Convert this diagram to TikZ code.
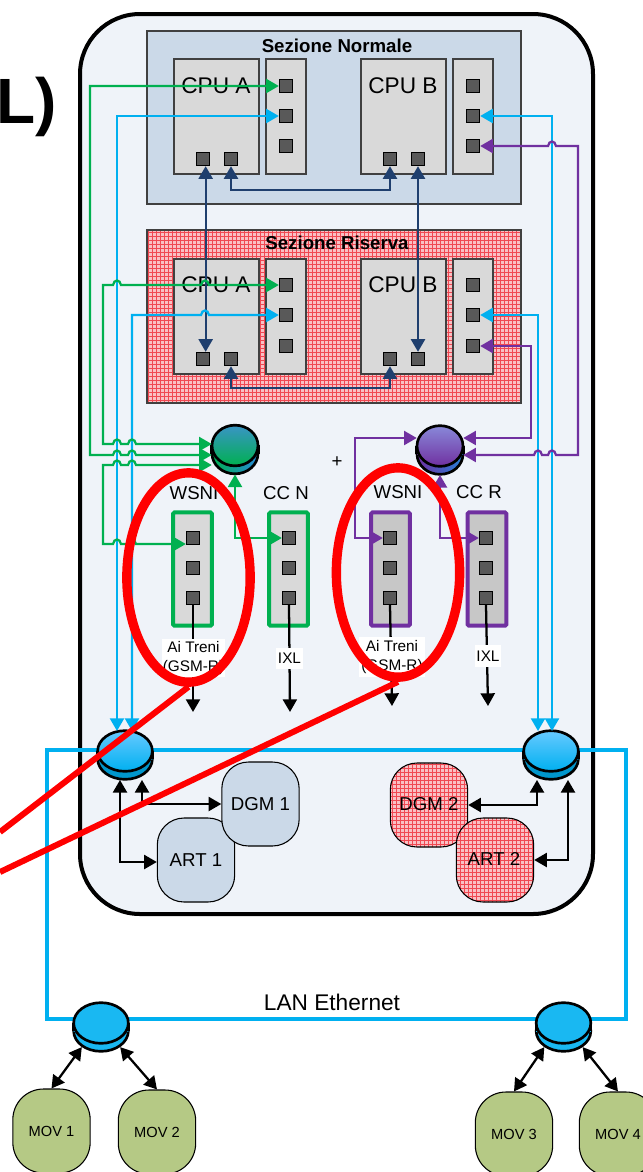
\documentclass[tikz,border=0pt]{standalone}
\usepackage{fontspec}
\setmainfont{Liberation Sans}
\usepackage{tikz}
\usetikzlibrary{arrows.meta,patterns,shapes.geometric}
\definecolor{sfondo}{HTML}{EFF3F9}
\definecolor{celeste}{HTML}{CBD9E8}
\definecolor{rosa}{HTML}{F9C0C4}
\definecolor{reticolo}{HTML}{F04852}
\definecolor{verde}{HTML}{00B050}
\definecolor{azzurro}{HTML}{00B0F0}
\definecolor{viola}{HTML}{7030A0}
\definecolor{blu}{HTML}{1F3F6E}
\definecolor{oliva}{HTML}{B5C985}
\tikzset{
	port/.style={rectangle,draw=black,line width=1pt,fill=black!65,minimum size=9.75pt,inner sep=0pt,name=#1},
	box/.style 2 args={rectangle,draw=black!75,line width=.8pt,fill=black!15,minimum width=#1,minimum height=#2,inner sep=0pt},
	wbox/.style={rectangle,rounded corners=1pt,line width=3pt,fill=black!15,minimum width=29pt,minimum height=85pt,inner sep=0pt,draw=#1},
	sec/.style={rectangle,draw=black!75,line width=.8pt,minimum width=280.5pt,minimum height=129.75pt,inner sep=0pt},
	redgrid/.style={preaction={fill=rosa},pattern=grid,pattern color=reticolo},
	tonda/.style={rectangle,rounded corners=20pt,draw=black,line width=.8pt,minimum width=58pt,minimum height=63pt,inner sep=0pt},
	mov/.style={rectangle,rounded corners=23pt,draw=black,line width=.8pt,fill=oliva,minimum width=58pt,minimum height=63pt,inner sep=0pt,font=\fontsize{11}{13}\selectfont},
	titolo/.style={font=\bfseries\fontsize{14}{16}\selectfont,inner sep=0pt},
	cpu/.style={font=\fontsize{17}{19}\selectfont,inner sep=0pt},
	nome/.style={font=\fontsize{14}{16}\selectfont,inner sep=0pt},
	etichetta/.style={fill=white,inner sep=1pt,align=center,font=\fontsize{11.5}{14}\selectfont},
	gline/.style={draw=verde,line width=1.7pt},
	bline/.style={draw=azzurro,line width=1.7pt},
	vline/.style={draw=viola,line width=1.7pt},
	nline/.style={draw=blu,line width=1.7pt},
	kline/.style={draw=black,line width=1.7pt},
	anello/.style={ellipse,draw=red,line width=7pt,minimum width=92.5pt,minimum height=157pt,inner sep=0pt},
	sbarra/.style={draw=red,line width=4.5pt},
	topverde/.style={top color=blue!35!cyan!55!gray,bottom color=verde},
	sideverde/.style={left color=verde,right color=blue!45!cyan!70!gray},
	topviola/.style={top color=blue!45!white!70!gray,bottom color=viola},
	sideviola/.style={left color=viola,right color=blue!50!cyan!70!gray},
	topblu/.style={top color=blue!35!cyan!60!white,bottom color=azzurro},
	sideblu/.style={left color=azzurro!85!black,right color=azzurro!85!black},
	topflat/.style={fill=azzurro!90!white},
	sideflat/.style={left color=azzurro!90!white,right color=azzurro!90!white}
}
\newcommand{\hub}[6]{
	\node [minimum width=#4,minimum height=37pt,inner sep=0pt] (#1) at (#2,#3) {};
	\node [ellipse,draw=black,line width=2pt,minimum width=#4,minimum height=30.5pt,inner sep=0pt,#6] (#1l) at (#2,#3+4) {};
	\node [minimum width=#4,minimum height=6pt,inner sep=0pt,#6] (#1m) at (#2,#3) {};
	\draw [line width=2pt] (#1m.north west) -- (#1m.south west);
	\draw [line width=2pt] (#1m.north east) -- (#1m.south east);
	\node [ellipse,draw=black,line width=2pt,minimum width=#4,minimum height=30.5pt,inner sep=0pt,#5] (#1t) at (#2,#3-4) {};
}
\newcommand{\hopr}[2]{-- (#1-4,#2) .. controls (#1-3,#2-6) and (#1+3,#2-6) .. (#1+4,#2)}
\newcommand{\hopl}[2]{-- (#1+4,#2) .. controls (#1+3,#2-6) and (#1-3,#2-6) .. (#1-4,#2)}

\begin{document}
\begin{tikzpicture}[x=0.75pt,y=-0.75pt,>={Triangle[length=9.5pt,width=10.5pt]}]
	\useasboundingbox (0,0) rectangle (643,1172);
	\clip (0,0) rectangle (643,1172);

	\node [anchor=base east,inner sep=0pt,font=\bfseries\fontsize{48}{50}\selectfont] (tl) at (57,123) {L)};

	\node [rectangle,rounded corners=45pt,draw=black,line width=3pt,fill=sfondo,minimum width=384.75pt,minimum height=675pt,inner sep=0pt] (esterno) at (336.5,464) {};

	\node [sec,fill=celeste] (sn) at (334,117.5) {};
	\node [sec,redgrid] (sr) at (334,316.5) {};
	\node [titolo] (tn) at (337,46) {Sezione Normale};
	\node [titolo] (tr) at (337,243) {Sezione Riserva};

	\node [box={63.75pt}{86.25pt}] (ncpua) at (216.5,116.5) {};
	\node [box={30pt}{86.25pt}] (nsa) at (286,116.5) {};
	\node [box={63.75pt}{86.25pt}] (ncpub) at (403.5,116.5) {};
	\node [box={30pt}{86.25pt}] (nsb) at (473,116.5) {};
	\node [box={63.75pt}{86.25pt}] (rcpua) at (216.5,316.5) {};
	\node [box={30pt}{86.25pt}] (rsa) at (286,316.5) {};
	\node [box={63.75pt}{86.25pt}] (rcpub) at (403.5,316.5) {};
	\node [box={30pt}{86.25pt}] (rsb) at (473,316.5) {};

	\node [cpu] (lna) at (216,86) {CPU A};
	\node [cpu] (lnb) at (403,86) {CPU B};
	\node [cpu] (lra) at (216,285) {CPU A};
	\node [cpu] (lrb) at (403,285) {CPU B};

	\node [port=na1] at (286,86) {};
	\node [port=na2] at (286,116) {};
	\node [port=na3] at (286,146) {};
	\node [port=nb1] at (473,86) {};
	\node [port=nb2] at (473,116) {};
	\node [port=nb3] at (473,146) {};
	\node [port=nc1] at (203,159) {};
	\node [port=nc2] at (231,159) {};
	\node [port=nc3] at (390,159) {};
	\node [port=nc4] at (418,159) {};
	\node [port=ra1] at (286,285) {};
	\node [port=ra2] at (286,315) {};
	\node [port=ra3] at (286,346) {};
	\node [port=rb1] at (473,285) {};
	\node [port=rb2] at (473,315) {};
	\node [port=rb3] at (473,346) {};
	\node [port=rc1] at (203,359) {};
	\node [port=rc2] at (231,359) {};
	\node [port=rc3] at (390,359) {};
	\node [port=rc4] at (418,359) {};

	\node [wbox=verde] (wn) at (192.5,569) {};
	\node [wbox=verde] (cn) at (288.5,569) {};
	\node [wbox=viola,fill=black!22] (wr) at (390.5,569) {};
	\node [wbox=viola,fill=black!22] (cr) at (487,569) {};
	\node [nome] (lwn) at (194,493) {WSNI};
	\node [nome] (lcn) at (286,493) {CC N};
	\node [nome] (lwr) at (398,492) {WSNI};
	\node [nome] (lcr) at (479,492) {CC R};
	\node [nome] (piu) at (337,462) {+};

	\node [port=wn1] at (193,538) {};
	\node [port=wn2] at (193,568) {};
	\node [port=wn3] at (193,598) {};
	\node [port=cn1] at (289,538) {};
	\node [port=cn2] at (289,568) {};
	\node [port=cn3] at (289,598) {};
	\node [port=wr1] at (390,538) {};
	\node [port=wr2] at (390,568) {};
	\node [port=wr3] at (390,598) {};
	\node [port=cr1] at (486,538) {};
	\node [port=cr2] at (486,568) {};
	\node [port=cr3] at (486,598) {};

	\node [tonda,fill=celeste,nome] (art1) at (196,860) {ART 1};
	\node [tonda,fill=celeste,nome] (dgm1) at (260.5,804) {DGM 1};
	\node [tonda,redgrid] (dgm2) at (429,805) {};
	\node [tonda,redgrid] (art2) at (495,860) {};
	\node [nome] (ldgm2) at (429,804) {DGM 2};
	\node [nome] (lart2) at (494,859) {ART 2};

	\node [mov] (mov1) at (51.5,1131) {MOV 1};
	\node [mov] (mov2) at (157,1132) {MOV 2};
	\node [mov] (mov3) at (514,1134) {MOV 3};
	\node [mov] (mov4) at (618,1134) {MOV 4};

	\node [rectangle,draw=azzurro,line width=3pt,minimum width=434.25pt,minimum height=201.75pt,inner sep=0pt] (lan) at (336.5,884.5) {};
	\node [nome,font=\fontsize{17}{19}\selectfont] (llan) at (332,1002) {LAN Ethernet};

	\hub{hv}{235}{449.5}{34.5pt}{topverde}{sideverde}
	\hub{hp}{440}{450}{34.5pt}{topviola}{sideviola}
	\hub{hl}{125}{755}{41pt}{topblu}{sideblu}
	\hub{hr}{551}{755}{41pt}{topblu}{sideblu}
	\hub{hb1}{101}{1027}{41pt}{topflat}{sideflat}
	\hub{hb2}{563.5}{1027}{41pt}{topflat}{sideflat}

	\coordinate (g1) at (90,455);
	\coordinate (g2) at (103,444);
	\coordinate (g3) at (103,465);
	\coordinate (g4) at (103,544);
	\coordinate (b1) at (117,731);
	\coordinate (b2) at (132,731);
	\coordinate (b3) at (538,731);
	\coordinate (b4) at (552,731);
	\coordinate (v1) at (578,455);
	\coordinate (v2) at (531,438);
	\coordinate (v3) at (355,438);
	\coordinate (n1) at (300,190);
	\coordinate (r1) at (300,388);
	\coordinate (a1) at (193,712);
	\coordinate (a2) at (290,712);
	\coordinate (a3) at (392,706);
	\coordinate (a4) at (488,706);
	\coordinate (s1) at (0,832);
	\coordinate (s2) at (0,872);
	\coordinate (k1) at (120,862);
	\coordinate (k2) at (142,804);
	\coordinate (k3) at (537,805);
	\coordinate (k4) at (568,860);

	\draw [nline,<->] ([xshift=2pt]nc1.south) -- ([xshift=2pt]rc1.north);
	\draw [nline,<->] (nc4.south) -- (rc4.north);
	\draw [nline,<->] (nc2.south) |- (n1) -| (nc3.south);
	\draw [nline,<->] (rc2.south) |- (r1) -| (rc3.south);

	\draw [bline,<->] (na2.west) -| (b1);
	\draw [bline,<->] (ra2.west) \hopl{205}{315} -| (b2);
	\draw [bline,<->] (nb2.east) -| (b4);
	\draw [bline,<->] (rb2.east) -| (b3);

	\draw [gline,<->] (na1.west) -| (g1) \hopr{117}{455} \hopr{132}{455} -- (hv.west |- g1);
	\draw [gline,<->] (ra1.west) \hopl{205}{285} \hopl{117}{285} -- (g2 |- ra1.west) -- (g2) \hopr{117}{444} \hopr{132}{444} -- (hv.west |- g2);
	\draw [gline,<->] (hv.west |- g3) \hopl{132}{465} \hopl{117}{465} -- (g3) -- (g4) \hopr{117}{544} \hopr{132}{544} -- (wn1.west |- g4);
	\draw [gline,<->] (hv.south) |- (cn1.west);

	\draw [vline,<->] (nb3.east) \hopr{552}{146} -| (v1) \hopl{552}{455} \hopl{538}{455} -- (hp.east |- v1);
	\draw [vline,<->] (rb3.east) -| (v2) -- (hp.east |- v2);
	\draw [vline,<->] (wr1.west) -| (v3) -- (hp.west |- v3);
	\draw [vline,<->] (hp.south) |- (cr1.west);

	\draw [kline,->] (wn3.south) -- (a1);
	\draw [kline,->] (cn3.south) -- (a2);
	\draw [kline,->] (wr3.south) -- (a3);
	\draw [kline,->] (cr3.south) -- (a4);
	\node [etichetta,minimum width=46pt,minimum height=29pt] (ln1) at (193.5,658) {Ai Treni\\(GSM-R)};
	\node [etichetta,minimum width=20pt,minimum height=16pt] (ln2) at (289.5,658.5) {IXL};
	\node [etichetta,minimum width=49pt,minimum height=30pt] (lr1) at (392,657) {Ai Treni\\(GSM-R)};
	\node [etichetta,minimum width=20pt,minimum height=16pt] (lr2) at (488,656) {IXL};

	\draw [kline,<->] (hl.south -| k1) -- (k1) -- (art1.west |- k1);
	\draw [kline,<->] (hl.south -| k2) -- (k2) -- (dgm1.west |- k2);
	\draw [kline,<->] (hr.south -| k3) -- (k3) -- (dgm2.east |- k3);
	\draw [kline,<->] (hr.south -| k4) -- (k4) -- (art2.east |- k4);

	\draw [kline,<->] (hb1l.-140) -- (mov1.north);
	\draw [kline,<->] (hb1l.-40) -- (mov2.north);
	\draw [kline,<->] (hb2l.-140) -- (mov3.north);
	\draw [kline,<->] (hb2l.-40) -- (mov4.north);

	\node [anello] (ringn) at (188.5,577.5) {};
	\node [anello] (ringr) at (398,572.5) {};
	\draw [sbarra] (s1) -- (ringn.south);
	\draw [sbarra] (s2) -- (ringr.south);
\end{tikzpicture}
\end{document}
